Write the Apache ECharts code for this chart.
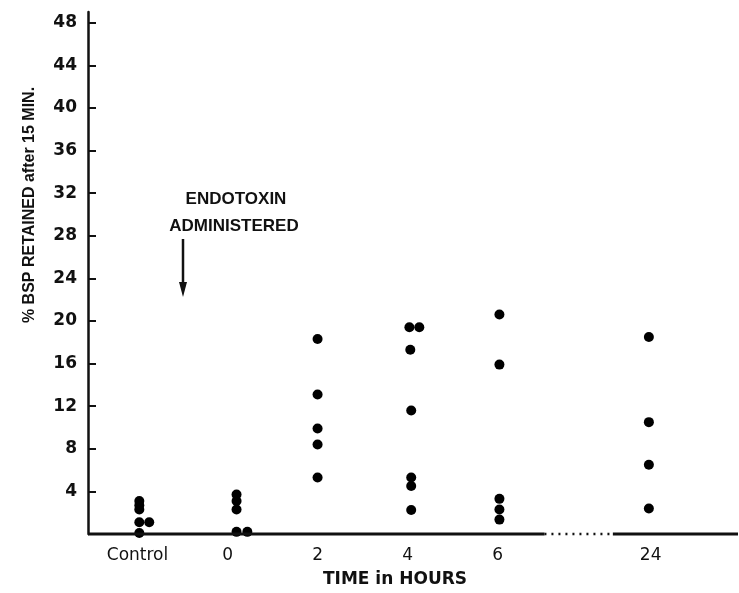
<!DOCTYPE html>
<html>
<head>
<meta charset="utf-8">
<script src="https://cdn.jsdelivr.net/npm/echarts@6/dist/echarts.min.js"></script>
<style>
  html, body { margin: 0; padding: 0; background: #fff; }
  #chart { width: 739px; height: 593px; }
</style>
</head>
<body>
<div id="chart"></div>
<script>
// groups on the time axis, and where each sits (24 h is placed after a gap)
var groupNames = ['Control', '0', '2', '4', '6', '24']
var groupPos = [0, 1, 2, 3, 4, 5.7]

// % BSP retained after 15 min, one array per group
var controlVals = [3.1, 2.7, 2.3, 1.1, 1.1, 0.1]
var hour0Vals = [3.7, 3.1, 2.3, 0.2, 0.2]
var hour2Vals = [18.3, 13.1, 9.9, 8.4, 5.3]
var hour4Vals = [19.4, 19.4, 17.3, 11.6, 5.3, 4.5, 2.25]
var hour6Vals = [20.6, 15.9, 3.3, 2.3, 1.35]
var hour24Vals = [18.5, 10.5, 6.5, 2.4]

// small sideways shifts where dots touch
var controlShift = [0.02, 0.02, 0.02, 0.02, 0.13, 0.02]
var hour0Shift = [0.1, 0.1, 0.1, 0.1, 0.22]
var hour2Shift = [0, 0, 0, 0, 0]
var hour4Shift = [0.02, 0.13, 0.03, 0.04, 0.04, 0.04, 0.04]
var hour6Shift = [0.02, 0.02, 0.02, 0.02, 0.02]
var hour24Shift = [-0.02, -0.02, -0.02, -0.02]

var yTicks = [4, 8, 12, 16, 20, 24, 28, 32, 36, 40, 44, 48]

// x axis drawn as solid / dotted / solid pieces
var xMin = -0.55
var xMax = 6.67
var breakFrom = 4.52
var breakTo = 5.28

var allVals = [controlVals, hour0Vals, hour2Vals, hour4Vals, hour6Vals, hour24Vals]
var allShift = [controlShift, hour0Shift, hour2Shift, hour4Shift, hour6Shift, hour24Shift]
var points = []
allVals.forEach(function (vals, g) {
  vals.forEach(function (v, i) {
    points.push([groupPos[g] + allShift[g][i], v])
  })
})

var chart = echarts.init(document.getElementById('chart'))
chart.setOption({
  animation: false,
  grid: { left: 88, right: 1, top: 12, bottom: 58 },
  xAxis: {
    type: 'value',
    min: xMin,
    max: xMax,
    splitLine: { show: false },
    axisLine: { show: false },
    axisTick: { show: false },
    axisLabel: {
      customValues: groupPos,
      margin: 13,
      color: '#111',
      fontFamily: 'DejaVu Sans',
      fontSize: 17,
      formatter: function (v) {
        var i = groupPos.indexOf(v)
        return i >= 0 ? groupNames[i] : ''
      }
    },
    name: 'TIME in HOURS',
    nameLocation: 'middle',
    nameGap: 37,
    nameTextStyle: {
      color: '#111',
      fontFamily: 'DejaVu Sans',
      fontWeight: 'bold',
      fontSize: 17,
      padding: [0, 36, 0, 0]
    }
  },
  yAxis: {
    type: 'value',
    min: 0,
    max: 49,
    splitLine: { show: false },
    axisLine: { show: true, onZero: false, lineStyle: { color: '#111', width: 2.5 } },
    axisTick: {
      show: true,
      inside: true,
      length: 8,
      customValues: yTicks,
      lineStyle: { color: '#111', width: 2 }
    },
    axisLabel: {
      customValues: yTicks,
      margin: 11,
      color: '#111',
      fontFamily: 'DejaVu Sans',
      fontWeight: 'bold',
      fontSize: 17
    }
  },
  graphic: [
    {
      type: 'text',
      x: 30,
      y: 205,
      rotation: Math.PI / 2,
      style: {
        text: '% BSP RETAINED after 15 MIN.',
        align: 'center',
        verticalAlign: 'middle',
        fill: '#111',
        font: 'bold 16px "Liberation Sans"'
      }
    },
    {
      type: 'text',
      x: 236,
      y: 199,
      style: {
        text: 'ENDOTOXIN',
        align: 'center',
        verticalAlign: 'middle',
        fill: '#111',
        font: 'bold 17px "Liberation Sans"'
      }
    },
    {
      type: 'text',
      x: 234,
      y: 226,
      style: {
        text: 'ADMINISTERED',
        align: 'center',
        verticalAlign: 'middle',
        fill: '#111',
        font: 'bold 17px "Liberation Sans"'
      }
    },
    {
      type: 'line',
      shape: { x1: 183, y1: 239, x2: 183, y2: 286 },
      style: { stroke: '#111', lineWidth: 2.5 }
    },
    {
      type: 'polygon',
      shape: { points: [[179, 282], [187, 282], [183, 297]] },
      style: { fill: '#111' }
    }
  ],
  series: [
    {
      type: 'line',
      data: [[xMin, 0], [breakFrom, 0]],
      symbol: 'none',
      clip: false,
      lineStyle: { color: '#111', width: 3 }
    },
    {
      type: 'line',
      data: [[breakFrom, 0], [breakTo, 0]],
      symbol: 'none',
      clip: false,
      lineStyle: { color: '#111', width: 2.5, type: [2, 5] }
    },
    {
      type: 'line',
      data: [[breakTo, 0], [xMax, 0]],
      symbol: 'none',
      clip: false,
      lineStyle: { color: '#111', width: 3 }
    },
    {
      type: 'scatter',
      data: points,
      symbolSize: 10,
      clip: false,
      itemStyle: { color: '#000', opacity: 1 }
    }
  ]
})
</script>
</body>
</html>
